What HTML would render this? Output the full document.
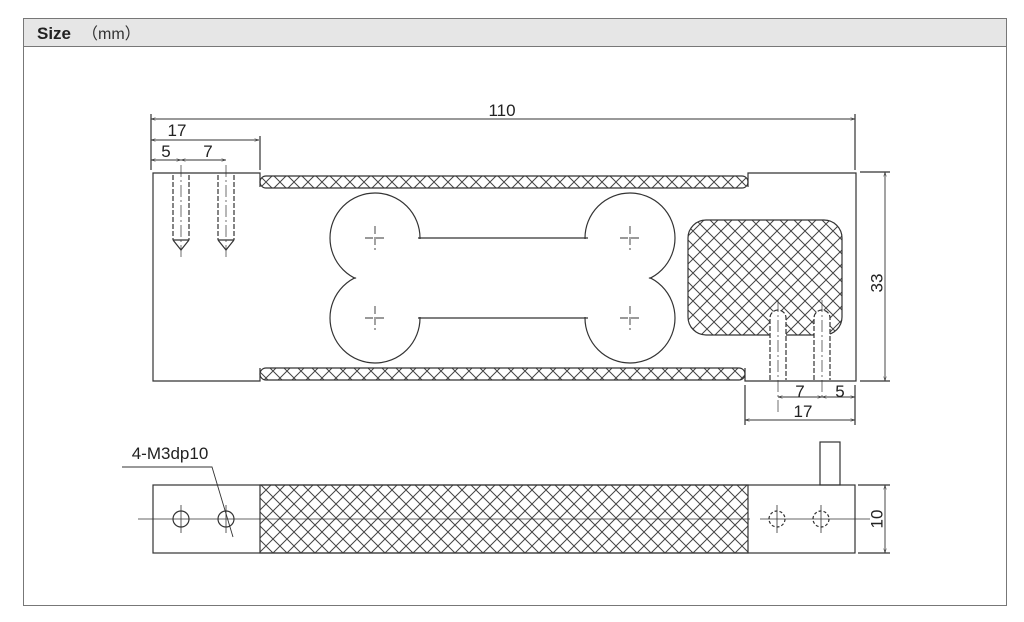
<!DOCTYPE html>
<html><head><meta charset="utf-8"><style>
html,body{margin:0;padding:0;background:#fff;width:1024px;height:622px;overflow:hidden}
svg{display:block;font-family:"Liberation Sans",Arial,sans-serif}
</style></head><body>
<svg width="1024" height="622" viewBox="0 0 1024 622" xmlns="http://www.w3.org/2000/svg">
<defs>
<pattern id="h" width="14" height="14" patternUnits="userSpaceOnUse">
<path d="M0,0L14,14M14,0L0,14" stroke="#444" stroke-width="1"/>
</pattern>
<marker id="a" viewBox="0 0 10 10" refX="10" refY="5" markerWidth="7" markerHeight="5" orient="auto-start-reverse"><path d="M0,2L10,5L0,8" fill="none" stroke="#333"/></marker>
</defs>
<rect x="23.5" y="18.5" width="983" height="587" fill="#fff" stroke="#777"/>
<rect x="23.5" y="18.5" width="983" height="28" fill="#e6e6e6" stroke="#777"/>
<text x="37" y="39" font-size="17" font-weight="bold" fill="#222">Size</text>
<text x="82" y="39" font-size="16" fill="#333">（mm）</text>
<g stroke="#333" stroke-width="1.2" fill="none">
<path d="M260,187V173H153V381H260V368M748,187V173H856V381H745V368"/>
<rect x="260" y="176" width="488" height="12" rx="6" fill="url(#h)"/>
<rect x="260" y="368" width="485" height="12" rx="6" fill="url(#h)"/>
<rect x="688" y="220" width="154" height="115" rx="18" fill="url(#h)"/>
<g>
<circle cx="375" cy="238" r="45"/><circle cx="375" cy="318" r="45"/>
<circle cx="630" cy="238" r="45"/><circle cx="630" cy="318" r="45"/>
<g fill="#fff" stroke="none">
<circle cx="375" cy="238" r="44"/><circle cx="375" cy="318" r="44"/>
<circle cx="630" cy="238" r="44"/><circle cx="630" cy="318" r="44"/>
<rect x="375" y="239" width="255" height="78"/>
</g>
<path d="M418,238H588M418,318H588"/>
</g>
<g stroke-width="0.9" stroke-dasharray="8,3">
<path d="M365,238H387M375,226V250M365,318H387M375,306V330M620,238H642M630,226V250M620,318H642M630,306V330"/>
</g>
<g stroke-dasharray="5,2">
<path d="M173,175V240M189,175V240M218,175V240M234,175V240"/>
<path d="M770,380V318A8,8 0 0 1 786,318V380M814,380V318A8,8 0 0 1 830,318V380" fill="#fff"/>
</g>
<path d="M173,240L181,250L189,240M218,240L226,250L234,240M173,240H189M218,240H234"/>
<path d="M181,165V260M226,165V260M778,300V415M822,300V400" stroke-width="0.7" stroke-dasharray="12,3,2,3"/>
<path d="M151,170V114M855,170V114M260,170V136M745,385V425M855,385V425"/>
<path d="M151,119H855" marker-start="url(#a)" marker-end="url(#a)" stroke-width="0.9"/>
<path d="M151,140H259" marker-start="url(#a)" marker-end="url(#a)" stroke-width="0.9"/>
<path d="M151,160H181" marker-start="url(#a)" marker-end="url(#a)" stroke-width="0.9"/>
<path d="M181,160H226" marker-start="url(#a)" marker-end="url(#a)" stroke-width="0.9"/>
<path d="M860,172H890M860,381H890"/>
<path d="M885,172V381" marker-start="url(#a)" marker-end="url(#a)" stroke-width="0.9"/>
<path d="M778,397H822" marker-start="url(#a)" marker-end="url(#a)" stroke-width="0.9"/>
<path d="M822,397H855" marker-start="url(#a)" marker-end="url(#a)" stroke-width="0.9"/>
<path d="M745,420H855" marker-start="url(#a)" marker-end="url(#a)" stroke-width="0.9"/>
<rect x="153" y="485" width="702" height="68"/>
<rect x="260" y="485" width="488" height="68" fill="url(#h)"/>
<rect x="820" y="442" width="20" height="43"/>
<circle cx="181" cy="519" r="8"/><circle cx="226" cy="519" r="8"/>
<circle cx="777" cy="519" r="8" stroke-dasharray="3,2"/><circle cx="821" cy="519" r="8" stroke-dasharray="3,2"/>
<path d="M138,519H750M760,519H870M181,505V533M226,505V533M777,505V533M821,505V533" stroke-width="0.8"/>
<path d="M858,485H890M858,553H890"/>
<path d="M885,485V553" marker-start="url(#a)" marker-end="url(#a)" stroke-width="0.9"/>
<path d="M122,467H212L233,537" stroke-width="0.9"/>
</g>
<g font-size="17" fill="#222" text-anchor="middle">
<text x="502" y="116">110</text>
<text x="177" y="136">17</text>
<text x="166" y="157">5</text>
<text x="208" y="157">7</text>
<text x="800" y="397">7</text>
<text x="840" y="397">5</text>
<text x="803" y="417">17</text>
<text x="878" y="283" transform="rotate(-90 878 283)" dominant-baseline="middle">33</text>
<text x="878" y="519" transform="rotate(-90 878 519)" dominant-baseline="middle">10</text>
<text x="170" y="459">4-M3dp10</text>
</g>
</svg>
</body></html>
